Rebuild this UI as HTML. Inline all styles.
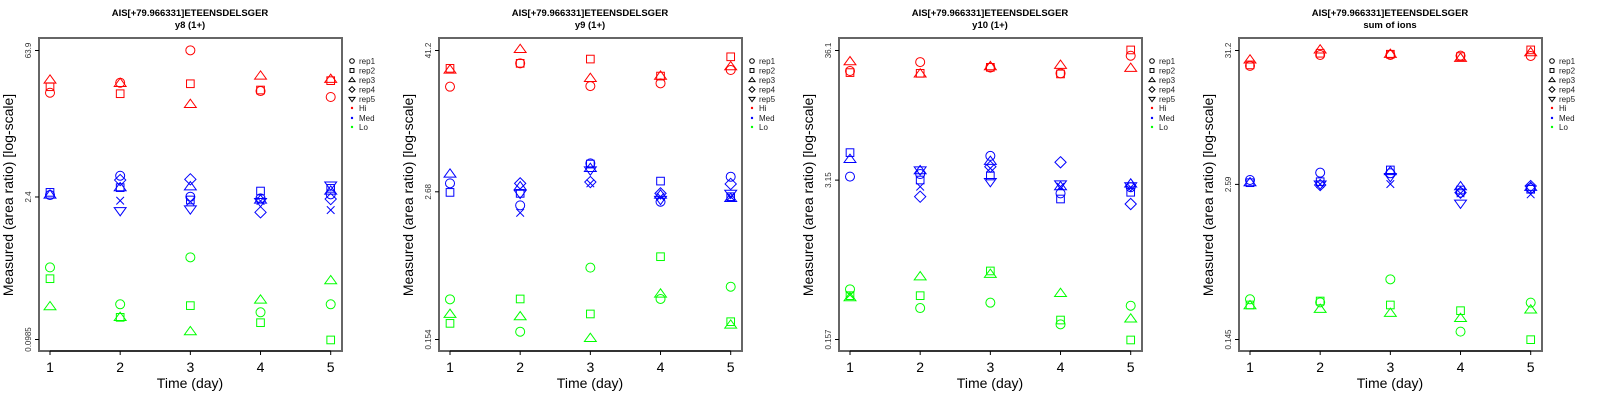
<!DOCTYPE html>
<html><head><meta charset="utf-8"><style>
body{margin:0;background:#fff;width:1600px;height:400px;overflow:hidden}
svg{display:block;font-family:"Liberation Sans",sans-serif}
</style></head><body>
<svg id="chart" width="1600" height="400" viewBox="0 0 1600 400" xmlns="http://www.w3.org/2000/svg"></svg>
<script>
// Shapes: 0 circle(rep1),1 square(rep2),2 triangle(rep3),3 diamond(rep4),4 inv-triangle(rep5),5 cross
// Each point: [day, shape, log10(value)]
const days = [1,2,3,4,5];
const titles = ["y8 (1+)","y9 (1+)","y10 (1+)","sum of ions"];
const peptide = "AIS[+79.966331]ETEENSDELSGER";
const tickLabels = [["0.0985","2.4","63.9"],["0.154","2.68","41.2"],["0.157","3.15","36.1"],["0.145","2.59","31.2"]];
const tickValues = [[0.0985,2.4,63.9],[0.154,2.68,41.2],[0.157,3.15,36.1],[0.145,2.59,31.2]];
const yDomain = [[0.0985,63.9],[0.154,41.2],[0.157,36.1],[0.145,31.2]];
const groupNames = ["Hi","Med","Lo"];
const legendLabels = ["rep1","rep2","rep3","rep4","rep5"];

const p1Hi = [[1,2,1.518],[1,1,1.453],[1,0,1.395],[2,0,1.492],[2,2,1.486],[2,1,1.385],[3,0,1.807],[3,1,1.482],[3,2,1.281],[4,2,1.557],[4,1,1.421],[4,0,1.411],[5,2,1.525],[5,1,1.512],[5,0,1.353]];
const p1Med = [[1,1,0.425],[1,0,0.399],[1,2,0.399],[2,0,0.587],[2,3,0.545],[2,1,0.471],[2,2,0.471],[2,5,0.344],[2,4,0.247],[3,3,0.552],[3,2,0.480],[3,0,0.383],[3,1,0.351],[3,5,0.335],[3,4,0.263],[4,1,0.438],[4,0,0.367],[4,2,0.351],[4,5,0.341],[4,4,0.335],[4,3,0.231],[5,4,0.496],[5,1,0.464],[5,2,0.438],[5,0,0.406],[5,3,0.360],[5,5,0.253]];
const p1Lo = [[1,0,-0.305],[1,1,-0.415],[1,2,-0.687],[2,0,-0.664],[2,1,-0.791],[2,2,-0.791],[3,0,-0.207],[3,1,-0.677],[3,2,-0.930],[4,2,-0.622],[4,0,-0.742],[4,1,-0.843],[5,2,-0.434],[5,0,-0.664],[5,1,-1.011]];

const p2Hi = [[1,1,1.465],[1,2,1.451],[1,0,1.311],[2,2,1.624],[2,1,1.507],[2,0,1.507],[3,1,1.543],[3,2,1.381],[3,0,1.316],[4,1,1.400],[4,2,1.400],[4,0,1.339],[5,1,1.562],[5,2,1.479],[5,0,1.451]];
const p2Med = [[1,2,0.577],[1,0,0.499],[1,1,0.423],[2,3,0.499],[2,2,0.471],[2,1,0.415],[2,4,0.415],[2,0,0.314],[2,5,0.252],[3,0,0.667],[3,1,0.661],[3,2,0.625],[3,4,0.611],[3,3,0.510],[3,5,0.499],[4,1,0.518],[4,3,0.415],[4,2,0.401],[4,5,0.387],[4,4,0.364],[4,0,0.345],[5,0,0.555],[5,3,0.494],[5,4,0.415],[5,5,0.387],[5,1,0.387],[5,2,0.373]];
const p2Lo = [[1,0,-0.475],[1,2,-0.601],[1,1,-0.677],[2,1,-0.472],[2,2,-0.621],[2,0,-0.747],[3,0,-0.209],[3,1,-0.598],[3,2,-0.803],[4,1,-0.117],[4,2,-0.430],[4,0,-0.472],[5,0,-0.369],[5,1,-0.663],[5,2,-0.691]];

const p3Hi = [[1,2,1.466],[1,0,1.390],[1,1,1.377],[2,0,1.463],[2,1,1.371],[2,2,1.366],[3,2,1.426],[3,1,1.420],[3,0,1.418],[4,2,1.437],[4,0,1.371],[4,1,1.366],[5,1,1.562],[5,0,1.515],[5,2,1.412]];
const p3Med = [[1,1,0.723],[1,2,0.668],[1,0,0.527],[2,4,0.581],[2,2,0.576],[2,0,0.548],[2,1,0.499],[2,5,0.445],[2,3,0.363],[3,0,0.696],[3,2,0.652],[3,3,0.608],[3,5,0.595],[3,1,0.532],[3,4,0.486],[4,3,0.644],[4,4,0.467],[4,5,0.445],[4,2,0.445],[4,0,0.390],[4,1,0.344],[5,2,0.467],[5,4,0.451],[5,0,0.440],[5,5,0.440],[5,1,0.399],[5,3,0.303]];
const p3Lo = [[1,0,-0.394],[1,5,-0.440],[1,1,-0.446],[1,2,-0.462],[2,2,-0.291],[2,1,-0.446],[2,0,-0.547],[3,1,-0.244],[3,2,-0.271],[3,0,-0.503],[4,2,-0.427],[4,1,-0.645],[4,0,-0.680],[5,0,-0.528],[5,2,-0.636],[5,1,-0.808]];

const p4Hi = [[1,2,1.418],[1,1,1.378],[1,0,1.370],[2,2,1.499],[2,1,1.472],[2,0,1.458],[3,1,1.464],[3,2,1.464],[3,0,1.458],[4,0,1.453],[4,1,1.445],[4,2,1.431],[5,1,1.499],[5,2,1.477],[5,0,1.450]];
const p4Med = [[1,0,0.449],[1,1,0.427],[1,2,0.427],[2,0,0.508],[2,1,0.435],[2,5,0.416],[2,4,0.416],[2,3,0.408],[3,1,0.530],[3,2,0.517],[3,0,0.503],[3,4,0.476],[3,5,0.416],[4,2,0.395],[4,1,0.368],[4,0,0.347],[4,3,0.347],[4,5,0.341],[4,4,0.261],[5,3,0.400],[5,2,0.390],[5,0,0.382],[5,1,0.374],[5,5,0.333]];
const p4Lo = [[1,0,-0.514],[1,1,-0.560],[1,2,-0.565],[2,1,-0.528],[2,0,-0.539],[2,2,-0.595],[3,0,-0.353],[3,1,-0.560],[3,2,-0.627],[4,1,-0.606],[4,2,-0.668],[4,0,-0.775],[5,0,-0.541],[5,2,-0.600],[5,1,-0.840]];

const panels = [[p1Hi,p1Med,p1Lo],[p2Hi,p2Med,p2Lo],[p3Hi,p3Med,p3Lo],[p4Hi,p4Med,p4Lo]];
const colors = ["#ff0000","#0000ff","#00ff00"];

const NS = "http://www.w3.org/2000/svg";
const svg = document.getElementById("chart");
function mk(tag, attrs, parent){
  const e = document.createElementNS(NS, tag);
  for (const k in attrs) e.setAttribute(k, attrs[k]);
  (parent||svg).appendChild(e);
  return e;
}
function shape(g, s, cx, cy, r, col, sw){
  let e;
  if (s===0) e = mk("circle",{cx:cx,cy:cy,r:r,fill:"none",stroke:col,"stroke-width":sw},g);
  else if (s===1) e = mk("rect",{x:cx-r*0.85,y:cy-r*0.85,width:r*1.7,height:r*1.7,fill:"none",stroke:col,"stroke-width":sw},g);
  else if (s===2){const h=r*1.15;e = mk("polygon",{points:`${cx},${cy-h} ${cx-h*1.15},${cy+h*0.6} ${cx+h*1.15},${cy+h*0.6}`,fill:"none",stroke:col,"stroke-width":sw},g);}
  else if (s===3){const h=r*1.25;e = mk("polygon",{points:`${cx},${cy-h} ${cx+h},${cy} ${cx},${cy+h} ${cx-h},${cy}`,fill:"none",stroke:col,"stroke-width":sw},g);}
  else if (s===4){const h=r*1.15;e = mk("polygon",{points:`${cx},${cy+h} ${cx-h*1.15},${cy-h*0.6} ${cx+h*1.15},${cy-h*0.6}`,fill:"none",stroke:col,"stroke-width":sw},g);}
  else {const h=r*0.85;e = mk("path",{d:`M${cx-h},${cy-h}L${cx+h},${cy+h}M${cx-h},${cy+h}L${cx+h},${cy-h}`,fill:"none",stroke:col,"stroke-width":sw},g);}
  return e;
}

panels.forEach((groups, pi) => {
  const ox = pi*400;
  const L=ox+39, R=ox+342, T=38, B=351;
  const xScale = d => ox + 50 + (d-1)*(330.7-50)/4;
  const lmin = Math.log10(yDomain[pi][0]), lmax = Math.log10(yDomain[pi][1]);
  const yScale = lv => 339.5 - (lv - lmin)/(lmax - lmin)*289;
  const g = mk("g",{});
  
  

  const t1 = mk("text",{x:ox+190,y:16,"text-anchor":"middle","font-size":"9.5","font-weight":"bold",fill:"#000"},g);
  t1.textContent = peptide;
  
  
  const t2 = mk("text",{x:ox+190,y:28,"text-anchor":"middle","font-size":"9.5","font-weight":"bold",fill:"#000"},g);
  t2.textContent = titles[pi];
  
  

  const box = mk("rect",{x:L,y:T,width:R-L,height:B-T,fill:"none",stroke:"#666","stroke-width":"2"},g);
  
  
  mk("line",{x1:xScale(1),x2:xScale(5),y1:B,y2:B,stroke:"#000","stroke-width":"1"},g);

  days.forEach(d => {
    const x = xScale(d);
    const tk = mk("line",{x1:x,x2:x,y1:B,y2:B+4,stroke:"#000"},g);
    
    
    const tl = mk("text",{x:x,y:372,"text-anchor":"middle","font-size":"14",fill:"#000"},g);
    tl.textContent = d;
    
    
  });
  const xt = mk("text",{x:ox+190,y:388,"text-anchor":"middle","font-size":"14",fill:"#000"},g);
  xt.textContent = "Time (day)";
  
  

  tickValues[pi].forEach((v, i) => {
    const y = yScale(Math.log10(v));
    const tk = mk("line",{x1:L-4,x2:L,y1:y,y2:y,stroke:"#000"},g);
    
    
    const tl = mk("text",{x:0,y:0,"text-anchor":"middle","font-size":"8",fill:"#333",transform:`translate(${ox+31},${y}) rotate(-90)`},g);
    tl.textContent = tickLabels[pi][i];
    
    
  });
  const yt = mk("text",{x:0,y:0,"text-anchor":"middle","font-size":"14",fill:"#000",transform:`translate(${ox+13},195) rotate(-90)`},g);
  yt.textContent = "Measured (area ratio) [log-scale]";
  
  

  groups.forEach((pts, gi) => {
    pts.forEach(p => {
      const m = shape(g, p[1], xScale(p[0]), yScale(p[2]), 4.5, colors[gi], 1);
      
      
    });
  });

  // legend
  const lg = mk("g",{},g);
  
  
  const rows = [61,70.5,80,89.5,99,108,118,127];
  legendLabels.forEach((lab, i) => {
    const s = shape(lg, i, ox+352, rows[i], 2.3, "#000", 1);
    
    
    const t = mk("text",{x:ox+359,y:rows[i]+3,"font-size":"8",fill:"#222"},lg);
    t.textContent = lab;
    
    
  });
  groupNames.forEach((lab, i) => {
    const y = rows[5+i];
    const s = mk("circle",{cx:ox+352,cy:y,r:1.2,fill:colors[i]},lg);
    
    
    const t = mk("text",{x:ox+359,y:y+3,"font-size":"8",fill:"#222"},lg);
    t.textContent = lab;
    
    
  });
});
</script>
</body></html>
